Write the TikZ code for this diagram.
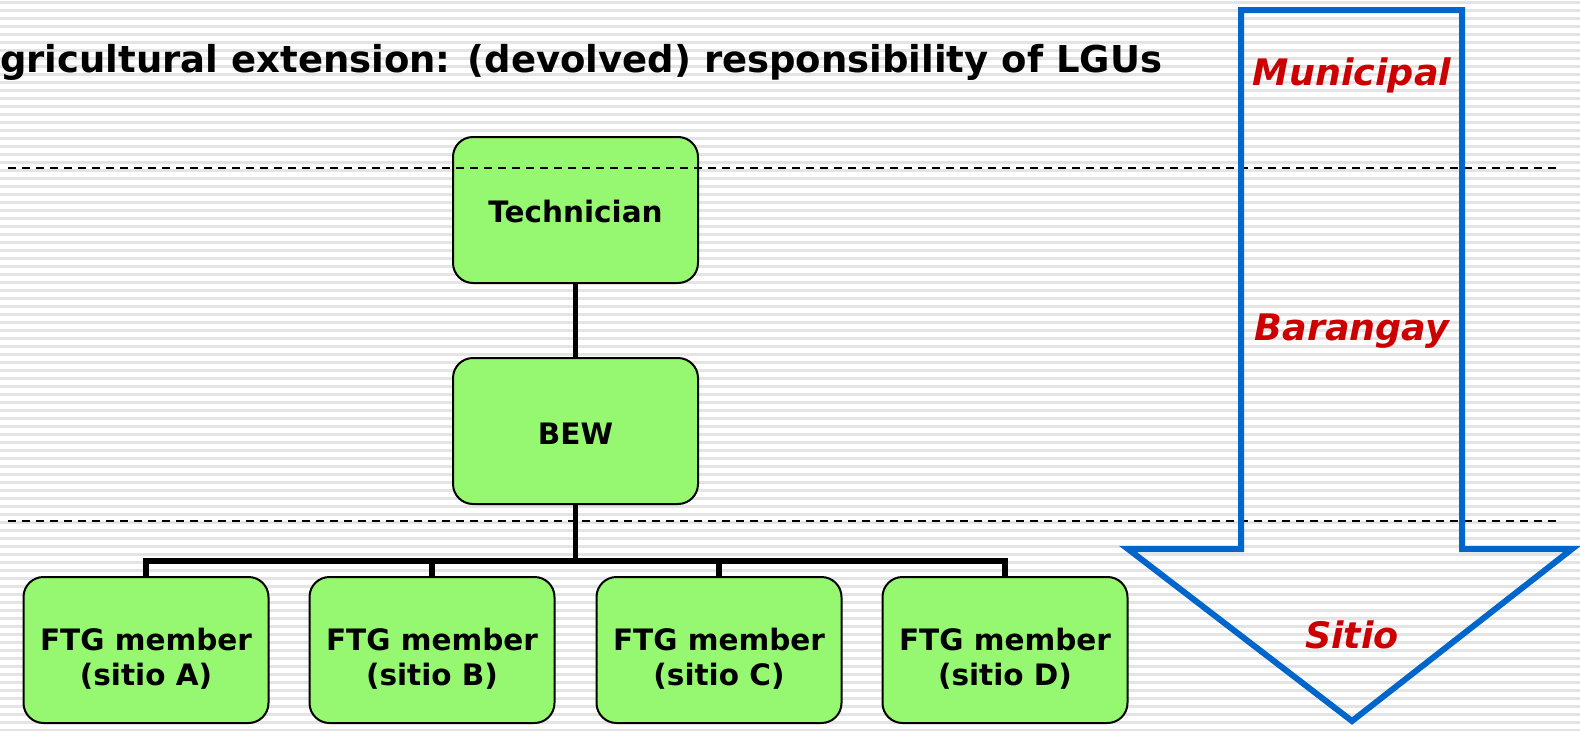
\documentclass[tikz,border=0pt]{standalone}
\usepackage{fontspec}
\setmainfont{DejaVu Sans}
\definecolor{boxgreen}{HTML}{95F870}
\definecolor{arrowblue}{HTML}{0066CC}
\definecolor{labelred}{HTML}{CC0000}
\definecolor{stripegray}{HTML}{E4E4E4}
\newcommand{\lowerline}{\rule{0pt}{40pt}}
\tikzset{
  orgbox/.style={draw=black, line width=2pt, fill=boxgreen, rounded corners=20pt,
    minimum width=245pt, minimum height=146pt, align=center,
    font=\fontsize{29.5}{35}\selectfont\bfseries,
    execute at begin node={\rule{0pt}{26pt}}},
  ftgbox/.style={draw=black, line width=2pt, fill=boxgreen, rounded corners=20pt,
    minimum width=245pt, minimum height=146pt, align=center,
    font=\fontsize{29.5}{35}\selectfont\bfseries},
  conn/.style={draw=black, line width=5.5pt},
  level/.style={draw=black, line width=1.3pt, dash pattern=on 8pt off 6pt},
  lvllabel/.style={text=labelred, font=\fontsize{36.5}{42}\selectfont\bfseries\itshape},
  bigarrow/.style={draw=arrowblue, line width=6pt, miter limit=20}
}
\begin{document}
\begin{tikzpicture}[x=1pt,y=-1pt]
\useasboundingbox (0,0) rectangle (1580,731);
\fill[white] (0,0) rectangle (1580,731);
\foreach \s in {0,8,...,728} \fill[stripegray] (0,\s+1) rectangle (1580,\s+3.5);
% title
\node[anchor=base west, inner sep=0pt, font=\fontsize{37}{44}\selectfont\bfseries] (title) at (0,72) {gricultural extension: (devolved) responsibility of LGUs};
% boxes
\node[orgbox] (tech) at (575.5,210) {Technician};
\node[orgbox] (bew) at (575.5,431) {BEW};
\node[ftgbox] (fa) at (146,650) {\lowerline FTG member\\(sitio A)};
\node[ftgbox] (fb) at (432,650) {\lowerline FTG member\\(sitio B)};
\node[ftgbox] (fc) at (719,650) {\lowerline FTG member\\(sitio C)};
\node[ftgbox] (fd) at (1005,650) {\lowerline FTG member\\(sitio D)};
% connectors
\coordinate (bus) at (575.5,561);
\draw[conn] (tech.south) -- (bew.north);
\draw[conn] (bew.south) -- (bus);
\draw[conn] (fa.north) |- (bus);
\draw[conn] (fb.north) |- (bus);
\draw[conn] (fc.north) |- (bus);
\draw[conn] (fd.north) |- (bus);
% level lines
\draw[level] (8,168) -- (1557,168);
\draw[level] (8,521) -- (1557,521);
% big arrow
\draw[bigarrow] (1241,10) -- (1462,10) -- (1462,549) -- (1572,549) -- (1352,721) -- (1128,549) -- (1241,549) -- cycle;
\node[lvllabel] (municipal) at (1352,75) {Municipal};
\node[lvllabel] (barangay) at (1352,331) {Barangay};
\node[lvllabel] (sitio) at (1352,635) {Sitio};
\end{tikzpicture}
\end{document}
